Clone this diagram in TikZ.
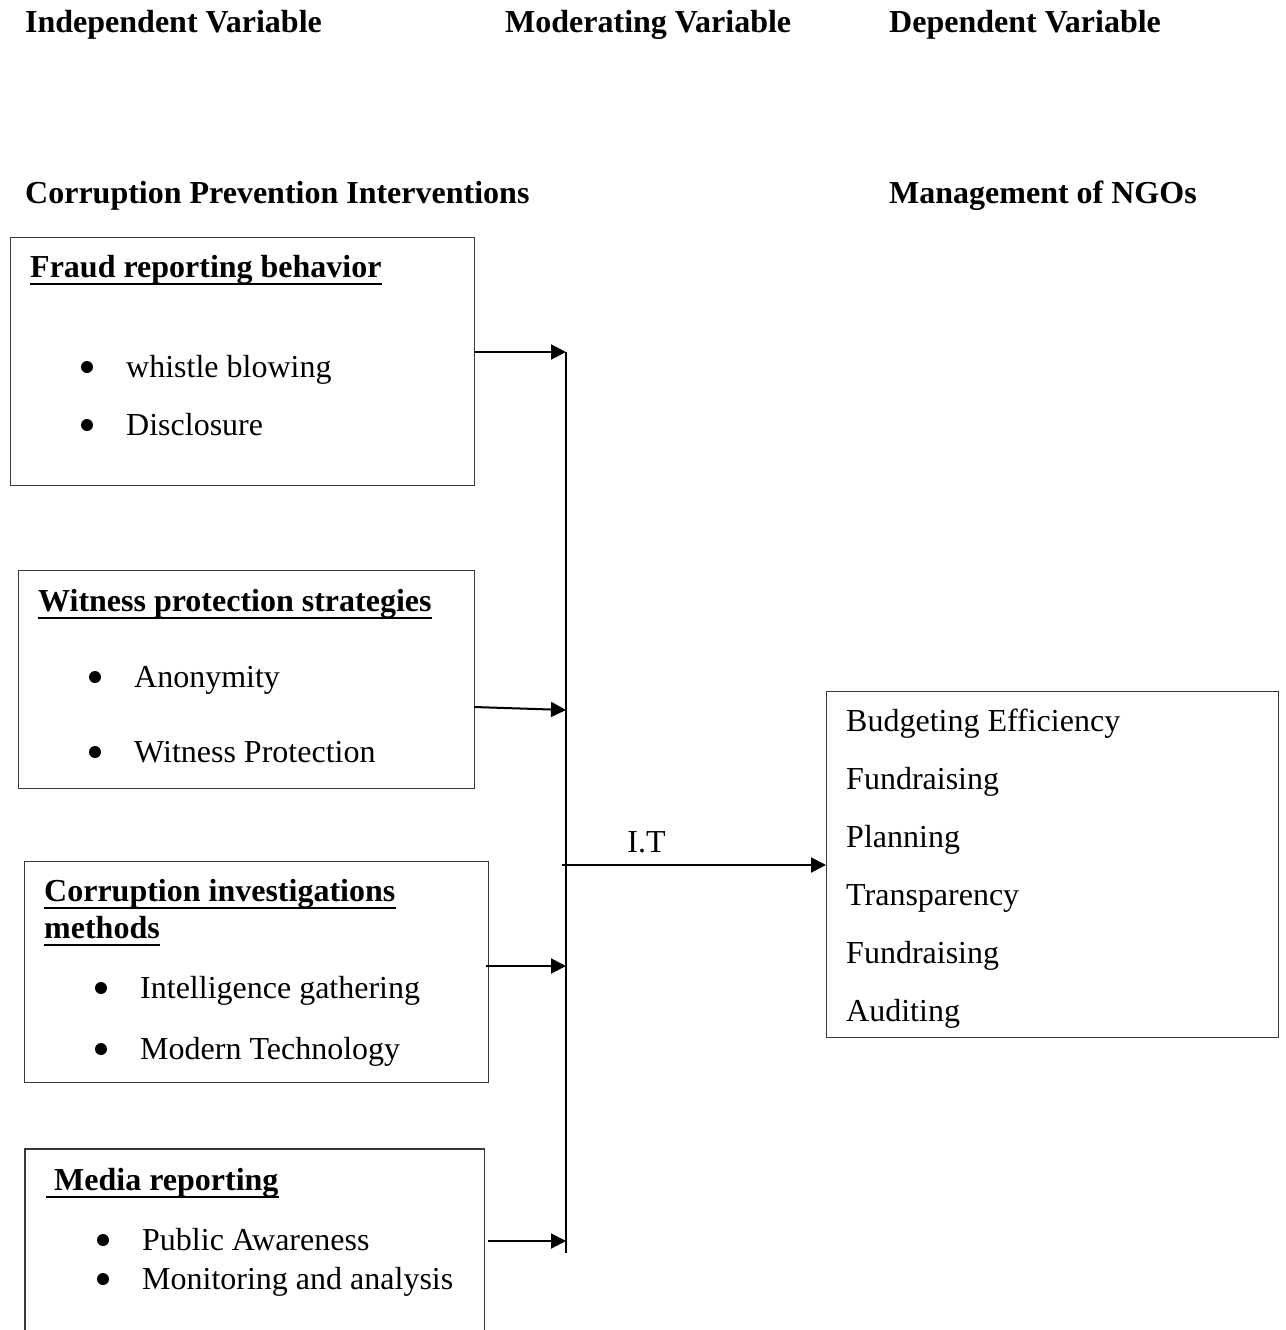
\documentclass[tikz,border=0pt]{standalone}
\usepackage{fontspec}
\setmainfont{Liberation Serif}
\usetikzlibrary{arrows.meta}
\begin{document}
\begin{tikzpicture}[x=1pt,y=-1pt,
  txt/.style={anchor=base west,inner sep=0pt,font=\fontsize{32}{38}\selectfont},
  bold/.style={anchor=base west,inner sep=0pt,font=\fontsize{32}{38}\selectfont\bfseries},
  dot/.style={circle,fill=black,inner sep=0pt,minimum size=12pt},
  box/.style={draw=black!78,line width=1.4pt,anchor=north west,inner sep=0pt},
  frame/.style={draw=black!78,line width=1.4pt},
  conn/.style={line width=2pt,-{Triangle[length=15pt,width=15pt]}},
  spine/.style={line width=2pt},
  uline/.style={line width=2.4pt}]
\useasboundingbox[fill=white] (0,0) rectangle (1285,1330);

% headers
\node[bold] (h1) at (25,33) {Independent Variable};
\node[bold] (h2) at (505,33) {Moderating Variable};
\node[bold] (h3) at (889,33) {Dependent Variable};
\node[bold] (h4) at (25,203) {Corruption Prevention Interventions};
\node[bold] (h5) at (889,203) {Management of NGOs};

% box 1
\node[box,minimum width=464pt,minimum height=248pt] (b1) at (10,237) {};
\node[bold] (t1) at (30,277) {Fraud reporting behavior};
\draw[uline] ([yshift=-7pt]t1.base west) -- ([yshift=-7pt]t1.base east);
\node[dot] (p11) at (87,367) {};
\node[txt] (i11) at (126,377) {whistle blowing};
\node[dot] (p12) at (87,425) {};
\node[txt] (i12) at (126,435) {Disclosure};

% box 2
\node[box,minimum width=456pt,minimum height=218pt] (b2) at (18,570) {};
\node[bold] (t2) at (38,611) {Witness protection strategies};
\draw[uline] ([yshift=-7pt]t2.base west) -- ([yshift=-7pt]t2.base east);
\node[dot] (p21) at (95,677) {};
\node[txt] (i21) at (134,687) {Anonymity};
\node[dot] (p22) at (95,752) {};
\node[txt] (i22) at (134,762) {Witness Protection};

% box 3
\node[box,minimum width=464pt,minimum height=221pt] (b3) at (24,861) {};
\node[bold] (t3a) at (44,901) {Corruption investigations};
\draw[uline] ([yshift=-7pt]t3a.base west) -- ([yshift=-7pt]t3a.base east);
\node[bold] (t3b) at (44,938) {methods};
\draw[uline] ([yshift=-7pt]t3b.base west) -- ([yshift=-7pt]t3b.base east);
\node[dot] (p31) at (101,988) {};
\node[txt] (i31) at (140,998) {Intelligence gathering};
\node[dot] (p32) at (101,1049) {};
\node[txt] (i32) at (140,1059) {Modern Technology};

% box 4 (open at the bottom)
\node[anchor=north west,inner sep=0pt,minimum width=459pt,minimum height=181pt] (b4) at (25,1149) {};
\draw[frame] (b4.south west) -- (b4.north west) -- (b4.north east) -- (b4.south east);
\node[bold] (t4) at (46,1190) {\ Media reporting};
\draw[uline] ([yshift=-7pt]t4.base west) -- ([yshift=-7pt]t4.base east);
\node[dot] (p41) at (103,1240) {};
\node[txt] (i41) at (142,1250) {Public Awareness};
\node[dot] (p42) at (103,1279) {};
\node[txt] (i42) at (142,1289) {Monitoring and analysis};

% right box
\node[box,minimum width=452pt,minimum height=346pt] (rb) at (826,691) {};
\begin{scope}
\clip (826,691) rectangle (1278,1027);
\node[txt] (r1) at (846,731) {Budgeting Efficiency};
\node[txt] (r2) at (846,789) {Fundraising};
\node[txt] (r3) at (846,847) {Planning};
\node[txt] (r4) at (846,905) {Transparency};
\node[txt] (r5) at (846,963) {Fundraising};
\node[txt] (r6) at (846,1021) {Auditing};
\end{scope}

% spine and connectors
\coordinate (s1) at (566,352);
\coordinate (s2) at (566,710);
\coordinate (s3) at (566,966);
\coordinate (s4) at (566,1241);
\coordinate (sb) at (566,1253);
\coordinate (it) at (562,865);
\draw[spine] (s1) -- (sb);
\draw[conn] (b1.east |- s1) -- (s1);
\draw[conn] (474,707) -- (s2);
\draw[conn] (486,966) -- (s3);
\draw[conn] (488,1241) -- (s4);
\draw[conn] (it) -- (rb.west |- it) node[pos=0.32,above=11pt,font=\fontsize{32}{38}\selectfont,inner sep=0pt] (itl) {I.T};
\end{tikzpicture}
\end{document}
